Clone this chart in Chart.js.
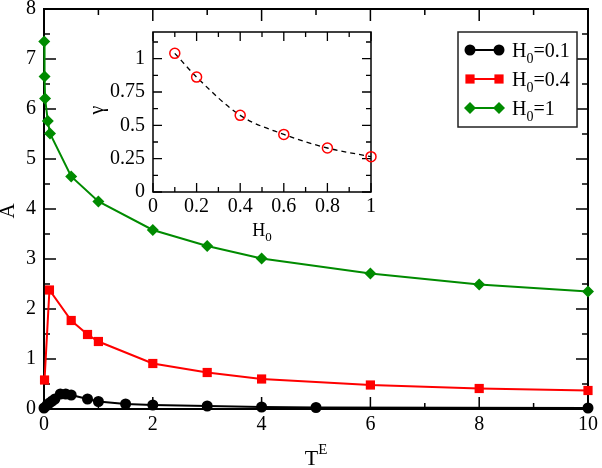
<!DOCTYPE html>
<html>
<head>
<meta charset="utf-8">
<script src="https://cdn.jsdelivr.net/npm/chart.js@4.4.1/dist/chart.umd.min.js"></script>
<style>
  body { margin: 0; background: #fff; }
  #wrap { position: relative; width: 602px; height: 468px; }
  #wrap canvas { position: absolute; left: 0; top: 0; }
</style>
</head>
<body>
<div id="wrap">
  <canvas id="main" width="602" height="468"></canvas>
  <canvas id="inset" width="602" height="468"></canvas>
</div>
<script>
// main panel: A vs T^E for three H0 values
const tH01 = [0, 0.05, 0.1, 0.15, 0.2, 0.3, 0.4, 0.5, 0.8, 1, 1.5, 2, 3, 4, 5, 10];
const aH01 = [0.02, 0.07, 0.12, 0.16, 0.2, 0.3, 0.3, 0.28, 0.2, 0.15, 0.1, 0.08, 0.06, 0.04, 0.03, 0.02];

const tH04 = [0.01, 0.1, 0.5, 0.8, 1, 2, 3, 4, 6, 8, 10];
const aH04 = [0.58, 2.38, 1.77, 1.49, 1.35, 0.91, 0.73, 0.6, 0.48, 0.41, 0.37];

const tH1 = [0.005, 0.01, 0.02, 0.07, 0.11, 0.5, 1, 2, 3, 4, 6, 8, 10];
const aH1 = [7.35, 6.65, 6.21, 5.76, 5.51, 4.65, 4.15, 3.58, 3.26, 3.01, 2.71, 2.49, 2.35];

const xTicks = [0, 2, 4, 6, 8, 10];
const xMinor = [1, 3, 5, 7, 9];
const yTicks = [0, 1, 2, 3, 4, 5, 6, 7, 8];
const yMinor = [0.5, 1.5, 2.5, 3.5, 4.5, 5.5, 6.5, 7.5];

// inset: gamma vs H0
const hInset = [0.1, 0.2, 0.4, 0.6, 0.8, 1];
const gInset = [1.04, 0.862, 0.575, 0.432, 0.33, 0.265];

const insetXTicks = [0, 0.2, 0.4, 0.6, 0.8, 1];
const insetXMinor = [0.1, 0.3, 0.5, 0.7, 0.9];
const insetYTicks = [0, 0.25, 0.5, 0.75, 1];
const insetYMinor = [0.125, 0.375, 0.625, 0.875, 1.125];

const SERIF = '"Liberation Serif", "DejaVu Serif", serif';

function pts(xs, ys) {
  return xs.map((x, i) => ({ x: x, y: ys[i] }));
}

// draw text with a sub- or superscript part
function textWithScript(ctx, base, script, x, y, size, sub, align) {
  ctx.font = size + 'px ' + SERIF;
  const wb = ctx.measureText(base).width;
  ctx.font = Math.round(size * 0.7) + 'px ' + SERIF;
  const ws = ctx.measureText(script).width;
  let left = x;
  if (align === 'center') left = x - (wb + ws) / 2;
  ctx.textAlign = 'left';
  ctx.textBaseline = 'alphabetic';
  ctx.font = size + 'px ' + SERIF;
  ctx.fillText(base, left, y);
  ctx.font = Math.round(size * 0.7) + 'px ' + SERIF;
  ctx.fillText(script, left + wb, sub ? y + size * 0.3 : y - size * 0.5);
  return wb + ws;
}

// boxed frame with inward ticks on all sides, drawn from the chart scales
const frameAxes = {
  id: 'frameAxes',
  beforeDatasetsDraw(chart, args, o) {
    const { ctx, chartArea: a } = chart;
    const xs = chart.scales.x, ys = chart.scales.y;
    ctx.save();
    ctx.strokeStyle = '#000';
    ctx.lineWidth = o.lineWidth;
    ctx.strokeRect(a.left, a.top, a.right - a.left, a.bottom - a.top);
    ctx.lineWidth = o.tickWidth;
    ctx.beginPath();
    const tickX = (vals, len) => vals.forEach(v => {
      const p = xs.getPixelForValue(v);
      ctx.moveTo(p, a.bottom); ctx.lineTo(p, a.bottom - len);
      ctx.moveTo(p, a.top); ctx.lineTo(p, a.top + len);
    });
    const tickY = (vals, len) => vals.forEach(v => {
      const p = ys.getPixelForValue(v);
      ctx.moveTo(a.left, p); ctx.lineTo(a.left + len, p);
      ctx.moveTo(a.right, p); ctx.lineTo(a.right - len, p);
    });
    tickX(o.xMajor, o.majorLen);
    tickX(o.xMinor, o.minorLen);
    tickY(o.yMajor, o.majorLen);
    tickY(o.yMinor, o.minorLen);
    ctx.stroke();

    ctx.fillStyle = '#000';
    ctx.font = o.fontSize + 'px ' + SERIF;
    ctx.textAlign = 'center';
    ctx.textBaseline = 'middle';
    o.xMajor.forEach(v => ctx.fillText(String(v), xs.getPixelForValue(v), a.bottom + o.xLabelGap));
    ctx.textAlign = 'right';
    o.yMajor.forEach(v => ctx.fillText(String(v), a.left - o.yLabelGap, ys.getPixelForValue(v)));
    ctx.restore();
  },
  afterDraw(chart, args, o) {
    if (o.titles) o.titles(chart.ctx, chart.chartArea);
  }
};

const seriesStyle = [
  { label: '0.1', data: pts(tH01, aH01), color: '#000000', pointStyle: 'circle', pointRadius: 5.5 },
  { label: '0.4', data: pts(tH04, aH04), color: '#ff0000', pointStyle: 'rect', pointRadius: 6.5 },
  { label: '1', data: pts(tH1, aH1), color: '#008b00', pointStyle: 'rectRot', pointRadius: 6 }
];

function drawMarker(ctx, style, x, y, r) {
  ctx.beginPath();
  if (style === 'circle') {
    ctx.arc(x, y, r, 0, Math.PI * 2);
  } else if (style === 'rect') {
    const s = r * Math.SQRT1_2;
    ctx.rect(x - s, y - s, 2 * s, 2 * s);
  } else {
    ctx.moveTo(x - r, y); ctx.lineTo(x, y - r); ctx.lineTo(x + r, y); ctx.lineTo(x, y + r); ctx.closePath();
  }
  ctx.fill();
}

function mainTitles(ctx, a) {
  ctx.save();
  ctx.fillStyle = '#000';
  // x title T^E
  textWithScript(ctx, 'T', 'E', 316, 465, 22, false, 'center');
  // y title A
  ctx.translate(8, 211);
  ctx.rotate(-Math.PI / 2);
  ctx.font = '21px ' + SERIF;
  ctx.textAlign = 'center';
  ctx.textBaseline = 'middle';
  ctx.fillText('A', 0, 0);
  ctx.restore();

  // legend box
  ctx.save();
  ctx.fillStyle = '#fff';
  ctx.fillRect(458, 32, 119, 95);
  ctx.strokeStyle = '#222';
  ctx.lineWidth = 1.5;
  ctx.strokeRect(458, 32, 119, 95);
  seriesStyle.forEach((s, i) => {
    const y = 50 + i * 29;
    ctx.strokeStyle = s.color;
    ctx.fillStyle = s.color;
    ctx.lineWidth = 2;
    ctx.beginPath();
    ctx.moveTo(468, y); ctx.lineTo(501, y);
    ctx.stroke();
    drawMarker(ctx, s.pointStyle, 470, y, s.pointRadius);
    drawMarker(ctx, s.pointStyle, 499, y, s.pointRadius);
    ctx.fillStyle = '#000';
    const w = textWithScript(ctx, 'H', '0', 512, y + 7, 20, true, 'left');
    ctx.font = '20px ' + SERIF;
    ctx.fillText('=' + s.label, 512 + w, y + 7);
  });
  ctx.restore();
}

new Chart(document.getElementById('main'), {
  type: 'scatter',
  data: {
    datasets: seriesStyle.map(s => ({
      label: 'H0=' + s.label,
      data: s.data,
      showLine: true,
      borderColor: s.color,
      backgroundColor: s.color,
      borderWidth: 2,
      pointStyle: s.pointStyle,
      pointRadius: s.pointRadius,
      pointBorderWidth: 0,
      tension: 0,
      clip: false
    }))
  },
  options: {
    responsive: false,
    animation: false,
    layout: { padding: { left: 44, right: 14, top: 9, bottom: 59 } },
    scales: {
      x: { type: 'linear', min: 0, max: 10, display: false },
      y: { type: 'linear', min: 0, max: 8, display: false }
    },
    plugins: {
      legend: { display: false },
      tooltip: { enabled: false },
      frameAxes: {
        xMajor: xTicks, xMinor: xMinor, yMajor: yTicks, yMinor: yMinor,
        majorLen: 12, minorLen: 6, lineWidth: 2, tickWidth: 1.5,
        fontSize: 20, xLabelGap: 16, yLabelGap: 8,
        titles: mainTitles
      }
    }
  },
  plugins: [frameAxes]
});

function insetTitles(ctx, a) {
  ctx.save();
  ctx.fillStyle = '#000';
  textWithScript(ctx, 'H', '0', 262, 236, 18, true, 'center');
  ctx.translate(98, 110);
  ctx.rotate(-Math.PI / 2);
  ctx.font = '20px ' + SERIF;
  ctx.textAlign = 'center';
  ctx.textBaseline = 'middle';
  ctx.fillText('γ', 0, 0);
  ctx.restore();
}

new Chart(document.getElementById('inset'), {
  type: 'scatter',
  data: {
    datasets: [{
      label: 'gamma',
      data: pts(hInset, gInset),
      showLine: true,
      borderColor: '#000',
      borderWidth: 1.3,
      borderDash: [5, 4],
      tension: 0.35,
      cubicInterpolationMode: 'monotone',
      pointStyle: 'circle',
      pointRadius: 5,
      pointBorderColor: '#ff0000',
      pointBackgroundColor: 'rgba(255,255,255,0)',
      pointBorderWidth: 1.5,
      clip: false
    }]
  },
  options: {
    responsive: false,
    animation: false,
    layout: { padding: { left: 153, right: 231, top: 32, bottom: 276 } },
    scales: {
      x: { type: 'linear', min: 0, max: 1, display: false },
      y: { type: 'linear', min: 0, max: 1.2, display: false }
    },
    plugins: {
      legend: { display: false },
      tooltip: { enabled: false },
      frameAxes: {
        xMajor: insetXTicks, xMinor: insetXMinor, yMajor: insetYTicks, yMinor: insetYMinor,
        majorLen: 9, minorLen: 5, lineWidth: 1.5, tickWidth: 1.3,
        fontSize: 20, xLabelGap: 15, yLabelGap: 8,
        titles: insetTitles
      }
    }
  },
  plugins: [frameAxes]
});
</script>
</body>
</html>
